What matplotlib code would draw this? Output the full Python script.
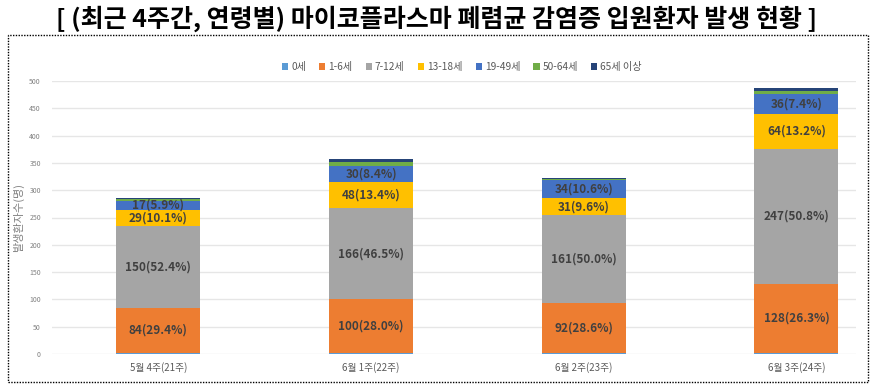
import matplotlib.pyplot as plt
import matplotlib.patches as patches
import numpy as np

plt.rcParams['font.family'] = ['Noto Sans CJK KR', 'DejaVu Sans']

weeks = ['5월 4주(21주)', '6월 1주(22주)', '6월 2주(23주)', '6월 3주(24주)']
groups = ['0세', '1-6세', '7-12세', '13-18세', '19-49세', '50-64세', '65세 이상']
colors = ['#5B9BD5', '#ED7D31', '#A5A5A5', '#FFC000', '#4472C4', '#70AD47', '#264478']

age_0 = [1, 1, 1, 1]
age_1_6 = [84, 100, 92, 128]
age_7_12 = [150, 166, 161, 247]
age_13_18 = [29, 48, 31, 64]
age_19_49 = [17, 30, 34, 36]
age_50_64 = [3, 6, 2, 5]
age_65 = [2, 6, 1, 6]

labels_1_6 = ['84(29.4%)', '100(28.0%)', '92(28.6%)', '128(26.3%)']
labels_7_12 = ['150(52.4%)', '166(46.5%)', '161(50.0%)', '247(50.8%)']
labels_13_18 = ['29(10.1%)', '48(13.4%)', '31(9.6%)', '64(13.2%)']
labels_19_49 = ['17(5.9%)', '30(8.4%)', '34(10.6%)', '36(7.4%)']

series = [age_0, age_1_6, age_7_12, age_13_18, age_19_49, age_50_64, age_65]
labels = [None, labels_1_6, labels_7_12, labels_13_18, labels_19_49, None, None]

fig = plt.figure(figsize=(8.74, 3.87), dpi=100)
ax = fig.add_axes([52 / 874, 33 / 387, 804 / 874, 273 / 387])

x = np.arange(len(weeks))
bottom = np.zeros(len(weeks))
for name, vals, col, labs in zip(groups, series, colors, labels):
    vals = np.array(vals)
    ax.bar(x, vals, 0.395, bottom=bottom, color=col, label=name, zorder=3)
    if labs is not None:
        for i in range(len(weeks)):
            ax.text(x[i], bottom[i] + vals[i] / 2, labs[i], ha='center', va='center',
                    fontsize=8.5, fontweight='bold', color='#404040', zorder=4)
    bottom += vals

ax.set_xlim(-0.5, 3.28)
ax.set_ylim(0, 500)
ax.set_yticks(range(0, 501, 50))
ax.grid(axis='y', color='#E6E6E6', linewidth=1, zorder=0)
ax.set_xticks(x)
ax.set_xticklabels(weeks, fontsize=7, color='#595959')
ax.tick_params(axis='y', labelsize=5, colors='#808080', length=0, pad=8)
ax.tick_params(axis='x', length=0, pad=6)
for s in ax.spines.values():
    s.set_visible(False)
ax.set_ylabel('발생환자수(명)', fontsize=8, color='#808080', labelpad=4)

ax.legend(loc='lower center', bbox_to_anchor=(0.51, 1.0), ncol=7, frameon=False,
          fontsize=7.3, handlelength=0.6, handleheight=0.6, columnspacing=1.3,
          handletextpad=0.3, labelcolor='#595959')

fig.text(0.5, 0.951, '[ (최근 4주간, 연령별) 마이코플라스마 폐렴균 감염증 입원환자 발생 현황 ]',
         ha='center', va='center', fontsize=18, fontweight='bold', color='black')

border = patches.Rectangle((8 / 874, 5 / 387), 860 / 874, 347 / 387, transform=fig.transFigure,
                           fill=False, linestyle=(0, (1, 1)), linewidth=1, edgecolor='black')
fig.patches.append(border)

fig.savefig('out.png', dpi=100)
